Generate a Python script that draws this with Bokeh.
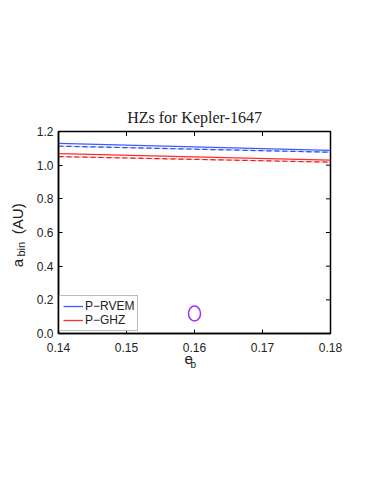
import math
from bokeh.plotting import figure
from bokeh.models import Label, Legend, LegendItem, FixedTicker, Range1d
from bokeh.embed import file_html
from bokeh.resources import INLINE

# ---- data ----
e_b = [0.14, 0.18]
rvem_solid = [1.129, 1.088]
rvem_dashed = [1.113, 1.077]
ghz_solid = [1.069, 1.030]
ghz_dashed = [1.051, 1.018]
planet_e = [0.16]
planet_a = [0.119]
x_ticks = [0.14, 0.15, 0.16, 0.17, 0.18]
y_ticks = [0.0, 0.2, 0.4, 0.6, 0.8, 1.0, 1.2]

BLUE = "#3b5bff"
RED = "#ff2b2b"
PURPLE = "#9b30ff"
TXT = "#222222"

p = figure(frame_width=272, frame_height=202, output_backend="svg",
           toolbar_location=None, x_range=Range1d(x_ticks[0], x_ticks[-1]),
           y_range=Range1d(y_ticks[0], y_ticks[-1]), min_border_left=58,
           min_border_right=42, min_border_top=131, min_border_bottom=148,
           background_fill_color="white", border_fill_color="white")

p.grid.visible = False
p.outline_line_color = "black"
p.outline_line_width = 1.5

p.title.text = "HZs for Kepler-1647"
p.title.text_font = "Liberation Serif"
p.title.text_font_size = "16px"
p.title.text_font_style = "normal"
p.title.text_color = TXT
p.title.align = "center"
p.title.standoff = 11

for ax in [p.xaxis[0], p.yaxis[0]]:
    ax.major_tick_in = 4
    ax.major_tick_out = 0
    ax.minor_tick_in = 0
    ax.minor_tick_out = 0
    ax.axis_line_color = "black"
    ax.axis_line_width = 1.5
    ax.major_tick_line_width = 1
    ax.major_label_text_font = "Liberation Sans"
    ax.major_label_text_font_size = "12px"
    ax.major_label_text_color = TXT

p.xaxis[0].ticker = FixedTicker(ticks=x_ticks)
p.yaxis[0].ticker = FixedTicker(ticks=y_ticks)
p.xaxis[0].major_label_overrides = {t: f"{t:.2f}" for t in x_ticks}
p.yaxis[0].major_label_overrides = {t: f"{t:.1f}" for t in y_ticks}
p.xaxis[0].major_label_standoff = 9
p.yaxis[0].major_label_standoff = 5

# mirrored inward ticks on top and right edges (half of each dash clipped by the frame)
p.scatter(x=x_ticks, y=[y_ticks[-1]] * len(x_ticks), marker="dash", angle=math.pi / 2,
          size=9, line_color="black", line_width=1)
p.scatter(x=[x_ticks[-1]] * len(y_ticks), y=y_ticks, marker="dash",
          size=9, line_color="black", line_width=1)

# lines
r1 = p.line(e_b, rvem_solid, line_color=BLUE, line_width=1.3)
p.line(e_b, rvem_dashed, line_color=BLUE, line_width=1.3, line_alpha=0.3)
p.line(e_b, rvem_dashed, line_color="#2f4ae0", line_width=1.2, line_dash="5 3")
r2 = p.line(e_b, ghz_solid, line_color=RED, line_width=1.3)
p.line(e_b, ghz_dashed, line_color=RED, line_width=1.3, line_alpha=0.3)
p.line(e_b, ghz_dashed, line_color="#e01f1f", line_width=1.2, line_dash="5 3")

p.ellipse(x=planet_e, y=planet_a, width=12, height=15, width_units="screen",
          height_units="screen", fill_color=None, line_color=PURPLE, line_width=1.5)

legend = Legend(items=[LegendItem(label="P\u2212RVEM", renderers=[r1]),
                       LegendItem(label="P\u2212GHZ", renderers=[r2])],
                location=(1, 2), orientation="vertical")
legend.label_text_font = "Liberation Sans"
legend.label_text_font_size = "12px"
legend.label_text_color = TXT
legend.glyph_width = 20
legend.glyph_height = 12
legend.label_height = 12
legend.label_standoff = 2
legend.spacing = 0
legend.padding = 3
legend.margin = 0
legend.border_line_color = "#777777"
legend.border_line_width = 1
legend.background_fill_color = "white"
legend.background_fill_alpha = 1
p.add_layout(legend, "center")

# axis labels, placed in the (roomy) bottom side panel so they are not clipped
def lab(x, y, text, size, angle=0.0):
    p.add_layout(Label(x=x, y=y, text=text,
                       text_font="Liberation Sans", text_font_size=size,
                       text_align="left", text_baseline="alphabetic",
                       angle=angle, text_color=TXT), "below")

lab(0.15853, -0.149, "e", "15px")
lab(0.15941, -0.184, "b", "10px")
lab(0.13397, 0.393, "a", "15px", math.pi / 2)
lab(0.13442, 0.457, "bin", "11px", math.pi / 2)
lab(0.13397, 0.590, "(AU)", "15px", math.pi / 2)

open("out.html", "w").write(file_html(p, INLINE))
